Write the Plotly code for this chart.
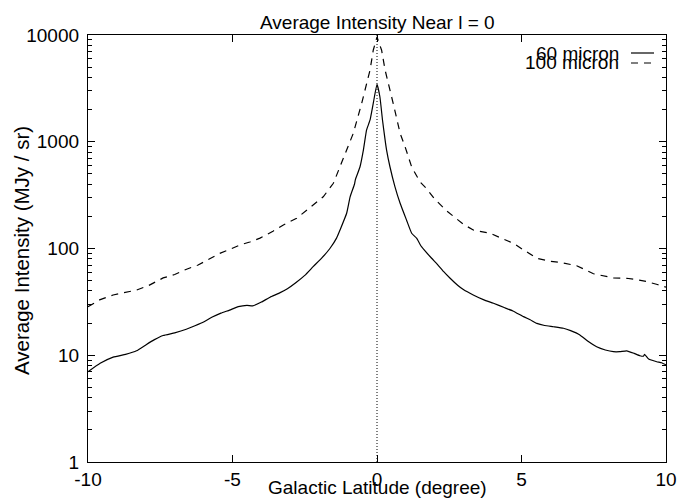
import plotly.graph_objects as go

# Galactic latitude (degree) and average intensity (MJy/sr)
lat_60 = [-10, -9.58, -9.13, -8.7, -8.32, -8.0, -7.7, -7.4, -7.0, -6.6, -6.3, -6.0, -5.7, -5.4,
          -5.1, -4.8, -4.5, -4.3, -4.0, -3.7, -3.4, -3.1, -2.8, -2.5, -2.2, -1.9, -1.63, -1.4,
          -1.28, -1.05, -0.93, -0.78, -0.75, -0.59, -0.47, -0.36, -0.24, -0.13, 0.0,
          0.10, 0.19, 0.28, 0.33, 0.45, 0.62, 0.80, 1.02, 1.20, 1.37, 1.54, 1.89, 2.06, 2.3,
          2.53, 2.8, 3.0, 3.33, 3.7, 4.03, 4.4, 4.7, 5.07, 5.3, 5.53, 5.8, 6.1, 6.45, 6.7,
          7.02, 7.3, 7.6, 7.9, 8.18, 8.4, 8.64, 8.9, 9.1, 9.22, 9.26, 9.4, 9.68, 9.85, 10]
int_60 = [7.0, 8.4, 9.6, 10.2, 11.0, 12.5, 14.0, 15.3, 16.2, 17.5, 18.9, 20.5, 22.8, 24.8,
          26.5, 28.5, 29.3, 29.0, 31.5, 35, 38, 42, 48, 56, 68, 82, 100, 125,
          149, 214, 305, 400, 440, 580, 840, 1290, 1600, 2290, 3450,
          2640, 1600, 1040, 840, 580, 380, 265, 185, 139, 125, 104, 81, 72.6, 61,
          52.6, 45, 41, 36.7, 33, 30.7, 28, 26, 23, 21.5, 19.9, 19, 18.5, 17.9, 17,
          15.5, 13.5, 12.0, 11.2, 10.8, 10.8, 11.0, 10.4, 9.9, 9.8, 10.2, 9.2, 8.7, 8.5, 8.1]

lat_100 = [-10, -9.6, -9.13, -8.7, -8.32, -7.9, -7.4, -7.0, -6.59, -6.19, -5.8, -5.44, -5.1,
           -4.74, -4.4, -4.05, -3.6, -3.24, -2.78, -2.5, -2.21, -1.86, -1.51, -1.28, -0.99,
           -0.82, -0.53, -0.24, -0.13, 0.0, 0.16, 0.28, 0.56, 0.80, 0.97, 1.20, 1.49, 1.71,
           2.0, 2.41, 2.75, 3.0, 3.33, 3.91, 4.3, 4.72, 5.07, 5.53, 6.0, 6.33, 6.91, 7.2,
           7.49, 8.18, 8.64, 9.0, 9.33, 9.7, 10]
int_100 = [28.5, 33, 36.7, 38.5, 40.8, 45, 53, 57, 64, 70, 80, 90, 98,
           108, 115, 125, 145, 166, 192, 220, 255, 305, 408, 580, 900,
           1200, 2290, 4700, 7200, 9600, 7200, 4700, 2290, 1200, 900, 580, 420, 365,
           290, 225, 190, 168, 149, 139, 125, 112, 97, 81, 76, 74, 69, 63,
           58, 53, 52.6, 51, 49, 46, 43.5]

x_ticks = [-10, -5, 0, 5, 10]
x_ticktext = ["-10", "-5", "0", "5", "10"]
y_ticks = [1, 10, 100, 1000, 10000]
y_ticktext = ["1", "10", "100", "1000", "10000"]

FONT = "Liberation Sans, Arial, sans-serif"
FS = 19

fig = go.Figure()
fig.add_trace(go.Scatter(x=[0, 0], y=[1, 10000], mode="lines",
                         line=dict(color="black", width=1, dash="1px,2px"),
                         showlegend=False, hoverinfo="skip"))
fig.add_trace(go.Scatter(x=lat_60, y=int_60, mode="lines", name="60 micron",
                         line=dict(color="black", width=1.2, shape="spline", smoothing=0.4)))
fig.add_trace(go.Scatter(x=lat_100, y=int_100, mode="lines", name="100 micron",
                         line=dict(color="black", width=1.2, dash="7px,6px")))

axis_common = dict(showline=True, linecolor="black", linewidth=1.3, mirror="ticks",
                   ticks="inside", tickcolor="black", showgrid=False, zeroline=False,
                   automargin=False,
                   tickfont=dict(family=FONT, size=FS, color="black"))

fig.update_layout(
    width=682, height=499,
    margin=dict(l=88, r=16, t=35, b=37),
    paper_bgcolor="white", plot_bgcolor="white",
    showlegend=False,
    font=dict(family=FONT, size=FS, color="black"),
    xaxis=dict(range=[-10, 10], tickvals=x_ticks, ticktext=x_ticktext, ticklen=7, tickwidth=1,
               ticklabelstandoff=0, **axis_common),
    yaxis=dict(type="log", range=[0, 4], tickvals=y_ticks, ticktext=y_ticktext,
               ticklen=7, tickwidth=1, ticklabelstandoff=4,
               minor=dict(ticks="inside", ticklen=4, tickcolor="black", dtick="D1",
                          showgrid=False),
               **axis_common),
)

pw, ph = 682 - 88 - 16, 499 - 35 - 37


def px_x(px):
    return (px - 88) / pw


def px_y(py):
    return 1 - (py - 35) / ph


annos = [
    dict(text="Average Intensity Near l = 0", x=0.5, y=1, xref="paper", yref="paper",
         xanchor="center", yanchor="bottom", yshift=0, showarrow=False),
    dict(text="Galactic Latitude (degree)", x=0.5, y=0, xref="paper", yref="paper",
         xanchor="center", yanchor="top", yshift=-13, showarrow=False),
    dict(text="Average Intensity (MJy / sr)", x=0, y=px_y(251), xref="paper", yref="paper",
         xanchor="center", yanchor="middle", xshift=-67, textangle=-90, showarrow=False,
         font=dict(family=FONT, size=20.5, color="black")),
    dict(text="60 micron", x=px_x(621), y=px_y(53), xref="paper", yref="paper",
         xanchor="right", yanchor="middle", showarrow=False),
    dict(text="100 micron", x=px_x(621), y=px_y(63), xref="paper", yref="paper",
         xanchor="right", yanchor="middle", showarrow=False),
]
fig.update_layout(annotations=annos)

for py, dash in [(53, "solid"), (63, "7px,6px")]:
    fig.add_shape(type="line", xref="paper", yref="paper",
                  x0=px_x(631), x1=px_x(654), y0=px_y(py), y1=px_y(py),
                  line=dict(color="black", width=1.2, dash=dash))

fig.write_html("out.html")
